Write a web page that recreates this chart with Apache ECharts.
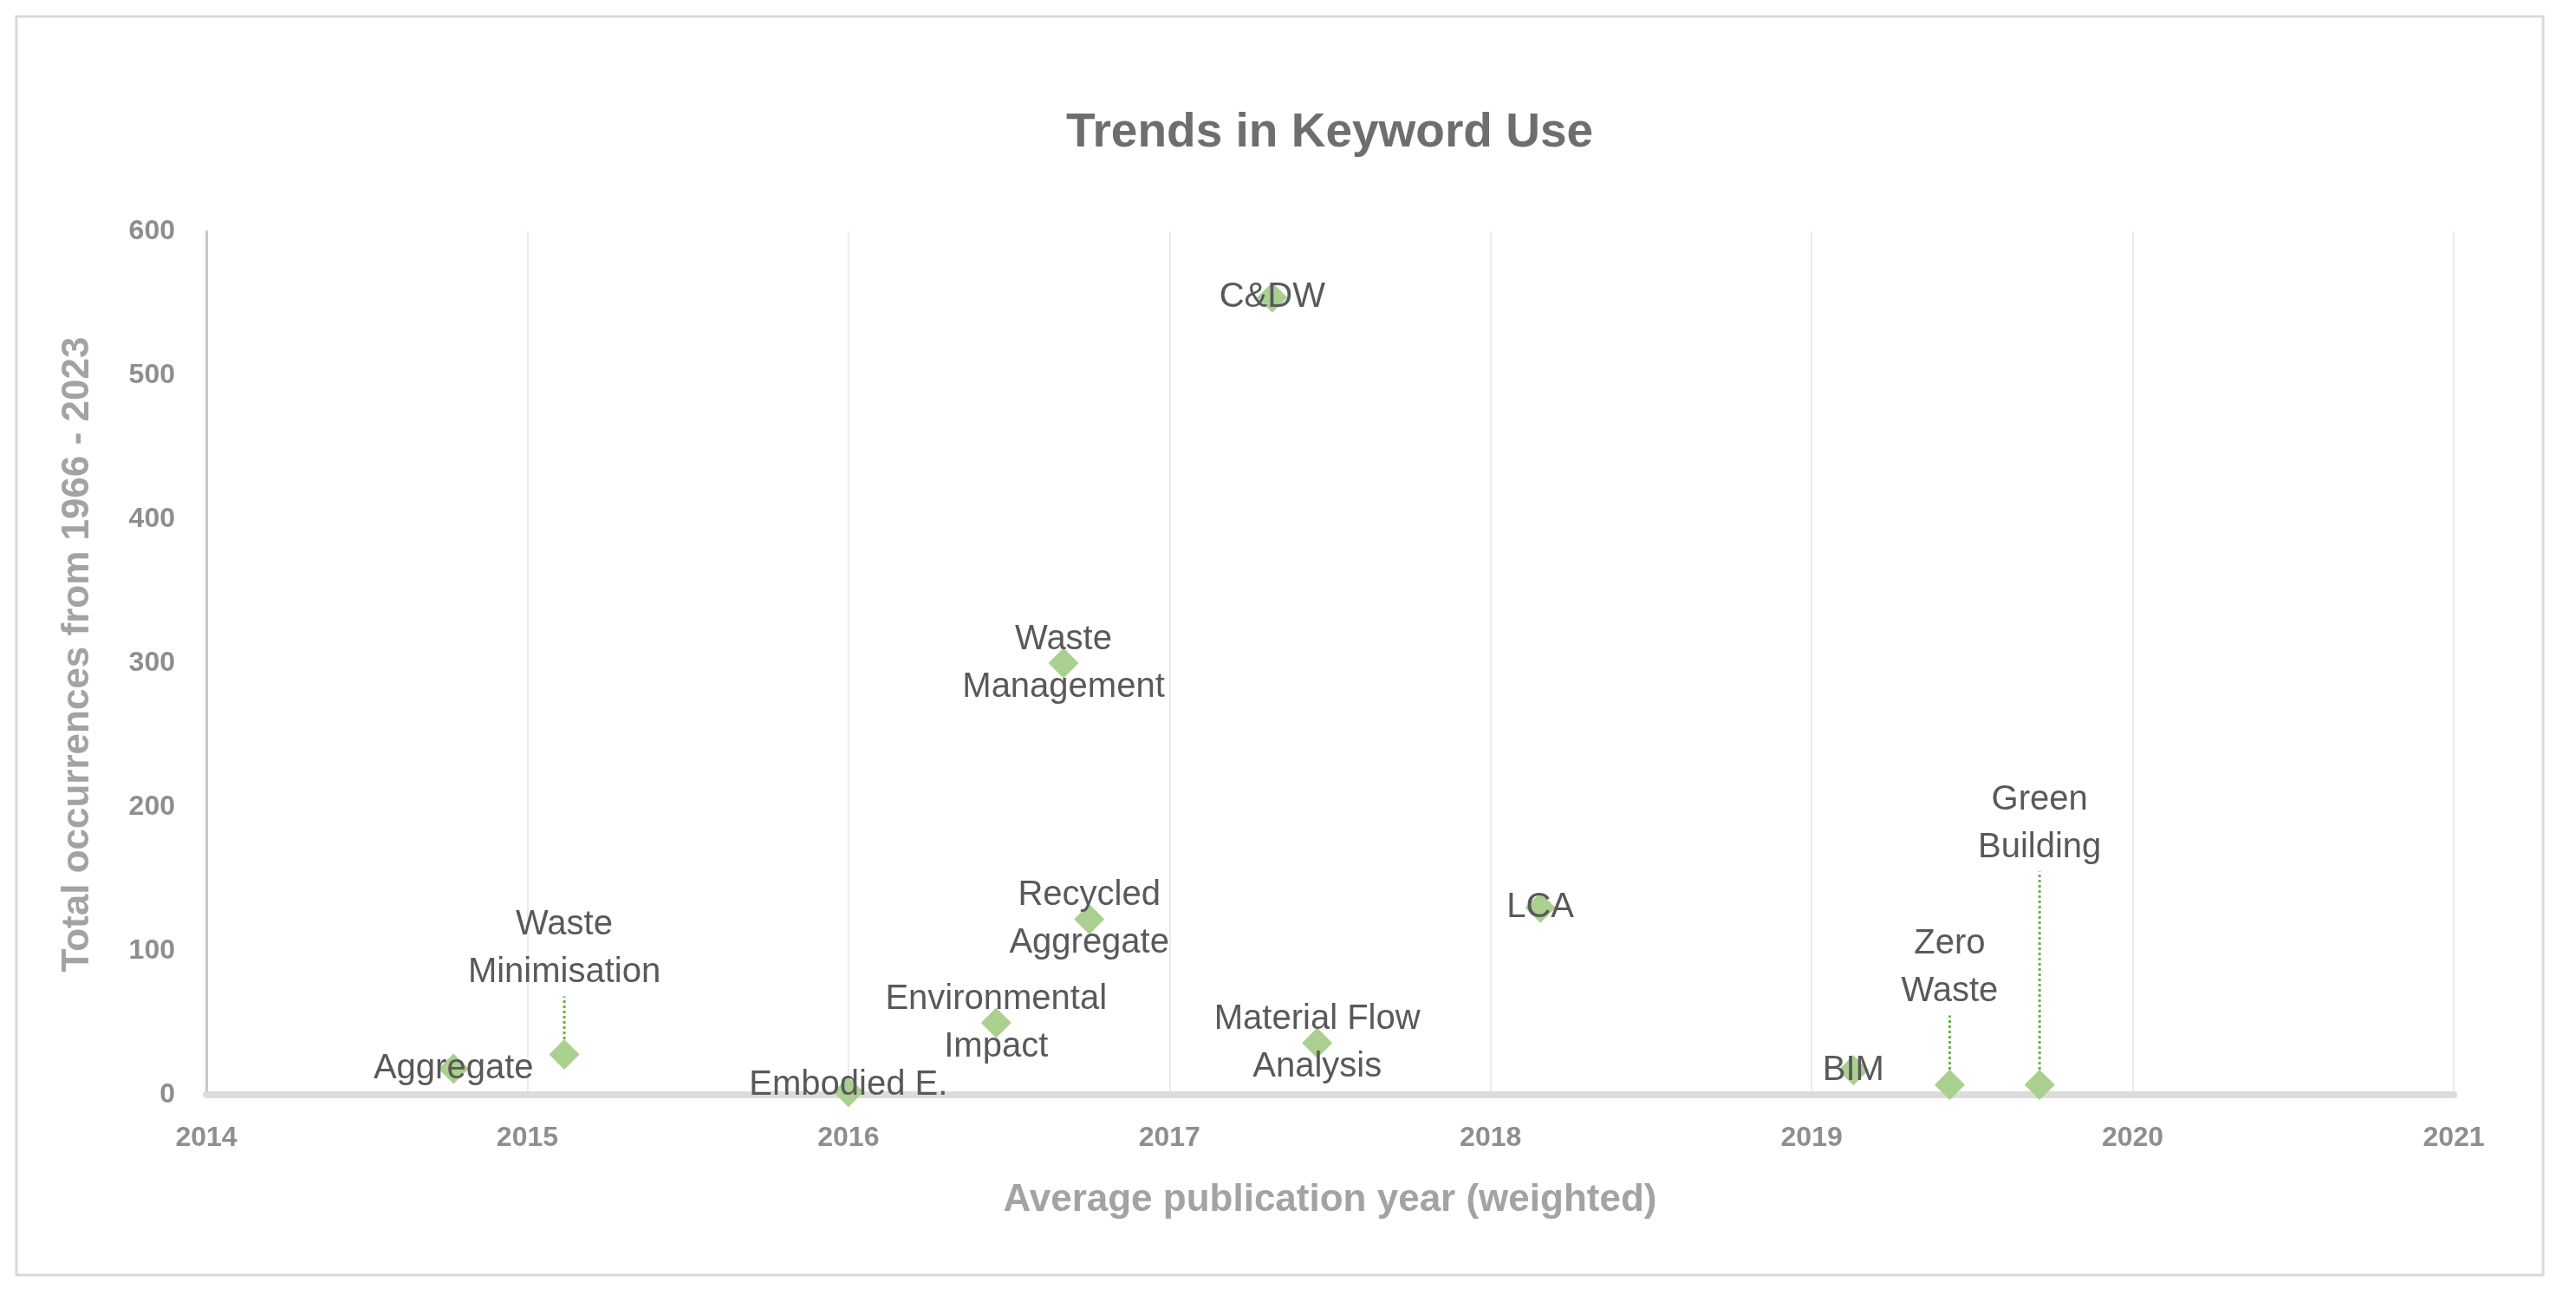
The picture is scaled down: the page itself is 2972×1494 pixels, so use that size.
<!DOCTYPE html>
<html>
<head>
<meta charset="utf-8">
<script src="https://cdn.jsdelivr.net/npm/echarts@6/dist/echarts.min.js"></script>
<style>
html,body{margin:0;padding:0;background:#fff;}
#chart{width:2972px;height:1494px;}
</style>
</head>
<body>
<div id="chart"></div>
<script>
// ---- data ----
var keywords = ['Aggregate', 'Waste\nMinimisation', 'Embodied E.', 'Environmental\nImpact', 'Waste\nManagement',
  'Recycled\nAggregate', 'C&DW', 'Material Flow\nAnalysis', 'LCA', 'BIM', 'Zero\nWaste', 'Green\nBuilding'];
var avgYear = [2014.77, 2015.115, 2016.0, 2016.46, 2016.67, 2016.75, 2017.32, 2017.46, 2018.155, 2019.13, 2019.43, 2019.71];
var occurrences = [18, 28, 2, 50, 300, 122, 554, 36, 130, 17, 7, 7];
var xTicks = [2014, 2015, 2016, 2017, 2018, 2019, 2020, 2021];
var yTicks = [0, 100, 200, 300, 400, 500, 600];

// label lifts (pixels) for labels drawn away from their marker
var labelLift = {'Waste\nMinimisation': 122, 'Zero\nWaste': 135, 'Green\nBuilding': 301, 'Embodied E.': 8};
var withLeader = {'Waste\nMinimisation': true, 'Zero\nWaste': true, 'Green\nBuilding': true};

var chart = echarts.init(document.getElementById('chart'), null, {renderer: 'canvas'});

var seriesData = keywords.map(function (k, i) {
  var item = {name: k, value: [avgYear[i], occurrences[i]]};
  if (withLeader[k]) {
    item.labelLine = {show: true};
  }
  return item;
});

var option = {
  backgroundColor: '#ffffff',
  animation: false,
  title: {
    text: 'Trends in Keyword Use',
    left: 1534,
    top: 126,
    padding: 0,
    textAlign: 'center',
    textStyle: {
      fontFamily: "'Liberation Sans', Arial, sans-serif",
      fontWeight: 'bold',
      fontSize: 55,
      color: '#6e6e6e'
    }
  },
  grid: {left: 238, right: 141, top: 267, bottom: 231, containLabel: false},
  xAxis: {
    type: 'value',
    min: xTicks[0],
    max: xTicks[xTicks.length - 1],
    interval: 1,
    name: 'Average publication year (weighted)',
    nameLocation: 'middle',
    nameGap: 100,
    nameTextStyle: {fontFamily: "'Liberation Sans', Arial, sans-serif", fontWeight: 'bold', fontSize: 44, color: '#a3a3a3'},
    axisLine: {show: true, lineStyle: {color: '#dcdcdc', width: 8}},
    axisTick: {show: false},
    splitLine: {show: true, lineStyle: {color: '#ececec', width: 2}},
    axisLabel: {
      margin: 34,
      fontFamily: "'Liberation Sans', Arial, sans-serif",
      fontSize: 32,
      fontWeight: 'bold',
      color: '#8e8e8e',
      formatter: function (v) { return String(v); }
    }
  },
  yAxis: {
    type: 'value',
    min: yTicks[0],
    max: yTicks[yTicks.length - 1],
    interval: 100,
    name: 'Total occurrences from 1966 - 2023',
    nameLocation: 'middle',
    nameGap: 126,
    nameTextStyle: {fontFamily: "'Liberation Sans', Arial, sans-serif", fontWeight: 'bold', fontSize: 44, color: '#a3a3a3', padding: [0, 0, 0, 20]},
    axisLine: {show: true, lineStyle: {color: '#c8c8c8', width: 3}},
    axisTick: {show: false},
    splitLine: {show: false},
    axisLabel: {
      margin: 36,
      fontFamily: "'Liberation Sans', Arial, sans-serif",
      fontSize: 32,
      fontWeight: 'bold',
      color: '#8e8e8e'
    }
  },
  graphic: [{
    type: 'rect',
    shape: {x: 19, y: 19, width: 2915, height: 1452},
    style: {fill: 'none', stroke: '#d9d9d9', lineWidth: 3},
    silent: true,
    z: -1
  }],
  series: [{
    type: 'scatter',
    symbol: 'diamond',
    symbolSize: 35,
    data: seriesData,
    itemStyle: {color: '#a9d08e', opacity: 1},
    label: {
      show: true,
      position: 'inside',
      formatter: function (p) { return p.name; },
      fontFamily: "'Liberation Sans', Arial, sans-serif",
      fontSize: 40,
      lineHeight: 55,
      color: '#595959',
      align: 'center'
    },
    labelLine: {
      show: false,
      lineStyle: {color: '#70ad47', width: 3, type: 'dotted'}
    },
    labelLayout: function (params) {
      var k = keywords[params.dataIndex];
      if (labelLift[k]) {
        return {dy: -labelLift[k]};
      }
      return {};
    },
    emphasis: {disabled: true}
  }]
};

chart.setOption(option);
</script>
</body>
</html>
